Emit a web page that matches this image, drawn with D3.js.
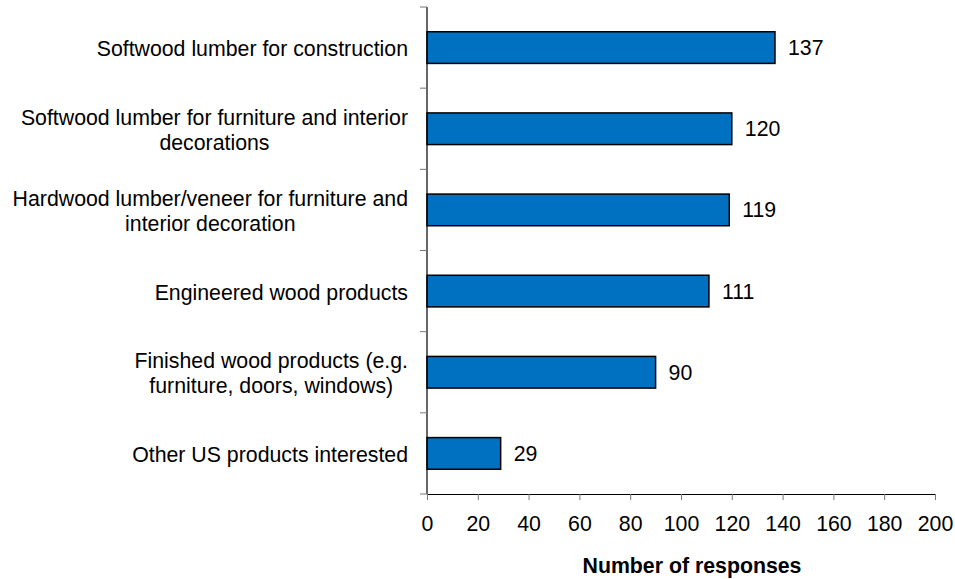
<!DOCTYPE html>
<html>
<head>
<meta charset="utf-8">
<script src="https://cdn.jsdelivr.net/npm/d3@7"></script>
<style>
  body { margin: 0; background: #fff; }
  text { font-family: "Liberation Sans", Arial, sans-serif; }
</style>
</head>
<body>
<svg width="955" height="579"></svg>
<script>
var categories = [
  ["Softwood lumber for construction"],
  ["Softwood lumber for furniture and interior", "decorations"],
  ["Hardwood lumber/veneer for furniture and", "interior decoration"],
  ["Engineered wood products"],
  ["Finished wood products (e.g.", "furniture, doors, windows)"],
  ["Other US products interested"]
];
var values = [137, 120, 119, 111, 90, 29];
var xTicks = [0, 20, 40, 60, 80, 100, 120, 140, 160, 180, 200];
var xTitle = "Number of responses";

var svg = d3.select("svg");
var plotLeft = 427, plotRight = 935, plotTop = 7, plotBottom = 494;
var fs = 21.3;

var x = d3.scaleLinear().domain([0, 200]).range([plotLeft, plotRight]);
var y = d3.scaleBand().domain(d3.range(categories.length)).range([plotTop, plotBottom]).paddingInner(0.61).paddingOuter(0.305);

// bars
svg.selectAll("rect.bar").data(values).enter().append("rect")
  .attr("class", "bar")
  .attr("x", x(0))
  .attr("y", (d, i) => y(i))
  .attr("width", d => x(d) - x(0))
  .attr("height", y.bandwidth())
  .attr("fill", "#0070C0")
  .attr("stroke", "#000")
  .attr("stroke-width", 1.5);

// value labels
svg.selectAll("text.val").data(values).enter().append("text")
  .attr("class", "val")
  .attr("x", d => x(d) + 13)
  .attr("y", (d, i) => y(i) + y.bandwidth() / 2)
  .attr("dy", "0.35em")
  .attr("font-size", fs)
  .text(d => d);

// y axis line + ticks between categories
var step = (plotBottom - plotTop) / categories.length;
svg.append("line").attr("x1", plotLeft).attr("x2", plotLeft).attr("y1", plotTop).attr("y2", plotBottom)
  .attr("stroke", "#000").attr("stroke-width", 1.2);
d3.range(categories.length + 1).forEach(function(i) {
  svg.append("line").attr("x1", plotLeft - 7).attr("x2", plotLeft)
    .attr("y1", plotTop + i * step).attr("y2", plotTop + i * step)
    .attr("stroke", "#777").attr("stroke-width", 1);
});

// category labels
var labelRight = 408;
categories.forEach(function(lines, i) {
  var cy = y(i) + y.bandwidth() / 2 + 1;
  var g = svg.append("text").attr("font-size", fs).attr("fill", "#000");
  var spans = lines.map(function(l, j) {
    return g.append("tspan").attr("y", cy + (j - (lines.length - 1) / 2) * 25).attr("dy", "0.35em").text(l);
  });
  var maxW = d3.max(spans, s => s.node().getComputedTextLength());
  spans.forEach(s => s.attr("x", labelRight - maxW / 2).attr("text-anchor", "middle"));
});

// x axis
var xAxis = svg.append("g").attr("transform", "translate(0," + plotBottom + ")")
  .call(d3.axisBottom(x).tickValues(xTicks).tickSize(6).tickPadding(16).tickSizeOuter(0));
xAxis.select(".domain").attr("stroke", "#000").attr("stroke-width", 1.2);
xAxis.selectAll(".tick line").attr("stroke", "#777");
xAxis.selectAll(".tick text").attr("font-size", fs).attr("font-family", "Liberation Sans, Arial, sans-serif").attr("fill", "#000");

svg.append("text")
  .attr("x", 692)
  .attr("y", 566)
  .attr("dy", "0.35em")
  .attr("text-anchor", "middle")
  .attr("font-size", fs)
  .attr("font-weight", "bold")
  .text(xTitle);
</script>
</body>
</html>
